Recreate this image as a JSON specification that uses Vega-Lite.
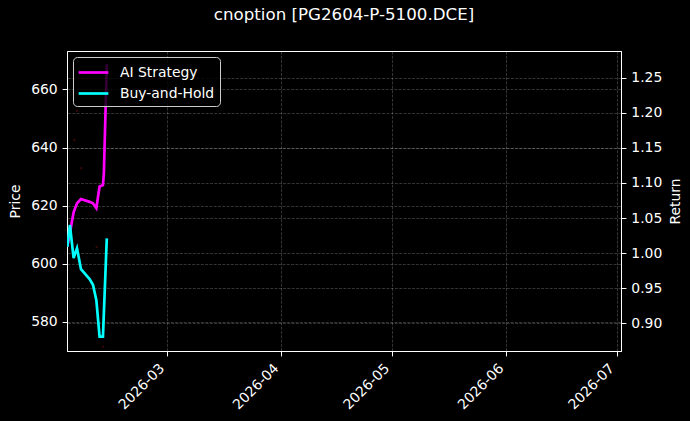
{
  "$schema": "https://vega.github.io/schema/vega-lite/v6.json",
  "width": 554,
  "height": 300,
  "autosize": {"type": "none"},
  "padding": {"left": 67, "top": 51, "right": 69, "bottom": 70},
  "background": "#000000",
  "title": {"text": "cnoption [PG2604-P-5100.DCE]", "color": "white", "font": "DejaVu Sans", "fontSize": 16.67, "fontWeight": "normal", "anchor": "middle", "offset": 27},
  "config": {
    "view": {"stroke": "white", "strokeWidth": 1},
    "font": "DejaVu Sans",
    "axis": {
      "labelColor": "white", "titleColor": "white", "tickColor": "white", "domainColor": "white",
      "labelFontSize": 13.9, "titleFontSize": 13.9, "titleFontWeight": "normal",
      "labelFont": "DejaVu Sans", "titleFont": "DejaVu Sans",
      "tickSize": 4.9, "tickWidth": 1, "labelPadding": 4.9, "domainWidth": 1,
      "gridColor": "#ffffff", "gridOpacity": 0.25, "gridDash": [3, 1.3], "gridWidth": 0.8
    }
  },
  "layer": [
    {
      "data": {"values": [
        {"date": "2026-02-03T22:00:00", "price": 642.6},
        {"date": "2026-02-04T15:00:00", "price": 652.6},
        {"date": "2026-02-05T19:00:00", "price": 632.9},
        {"date": "2026-02-09T23:00:00", "price": 605.8},
        {"date": "2026-02-11T18:00:00", "price": 571.5}
      ]},
      "mark": {"type": "point", "filled": true, "size": 5, "color": "#5a0a0a", "clip": true},
      "encoding": {
        "x": {
          "field": "date", "type": "temporal",
          "scale": {"domain": [{"year": 2026, "month": 2, "date": 1, "hours": 22}, {"year": 2026, "month": 7, "date": 2, "hours": 4}]},
          "axis": {
            "title": null, "format": "%Y-%m", "grid": true,
            "labelAngle": -45, "labelAlign": "right", "labelBaseline": "bottom", "labelPadding": 15,
            "values": [
              {"year": 2026, "month": 3, "date": 1},
              {"year": 2026, "month": 4, "date": 1},
              {"year": 2026, "month": 5, "date": 1},
              {"year": 2026, "month": 6, "date": 1},
              {"year": 2026, "month": 7, "date": 1}
            ]
          }
        },
        "y": {
          "field": "price", "type": "quantitative",
          "scale": {"domain": [570, 673.2], "nice": false, "zero": false},
          "axis": {"orient": "left", "title": "Price", "values": [580, 600, 620, 640, 660], "grid": true, "titlePadding": 8}
        }
      }
    },
    {
      "data": {"values": [
        {"date": "2026-02-02T00:00:00", "series": "AI Strategy", "value": 1.009},
        {"date": "2026-02-02T17:00:00", "series": "AI Strategy", "value": 1.029},
        {"date": "2026-02-03T17:00:00", "series": "AI Strategy", "value": 1.058},
        {"date": "2026-02-04T15:00:00", "series": "AI Strategy", "value": 1.071},
        {"date": "2026-02-05T17:00:00", "series": "AI Strategy", "value": 1.077},
        {"date": "2026-02-08T01:00:00", "series": "AI Strategy", "value": 1.073},
        {"date": "2026-02-08T23:00:00", "series": "AI Strategy", "value": 1.071},
        {"date": "2026-02-09T21:00:00", "series": "AI Strategy", "value": 1.064},
        {"date": "2026-02-10T18:00:00", "series": "AI Strategy", "value": 1.095},
        {"date": "2026-02-11T16:00:00", "series": "AI Strategy", "value": 1.097},
        {"date": "2026-02-11T22:00:00", "series": "AI Strategy", "value": 1.114},
        {"date": "2026-02-12T17:00:00", "series": "AI Strategy", "value": 1.269},
        {"date": "2026-02-02T00:00:00", "series": "Buy-and-Hold", "value": 1.009},
        {"date": "2026-02-02T17:00:00", "series": "Buy-and-Hold", "value": 1.040},
        {"date": "2026-02-03T17:00:00", "series": "Buy-and-Hold", "value": 0.993},
        {"date": "2026-02-04T15:00:00", "series": "Buy-and-Hold", "value": 1.007},
        {"date": "2026-02-05T17:00:00", "series": "Buy-and-Hold", "value": 0.977},
        {"date": "2026-02-08T01:00:00", "series": "Buy-and-Hold", "value": 0.963},
        {"date": "2026-02-08T23:00:00", "series": "Buy-and-Hold", "value": 0.955},
        {"date": "2026-02-09T21:00:00", "series": "Buy-and-Hold", "value": 0.933},
        {"date": "2026-02-10T18:00:00", "series": "Buy-and-Hold", "value": 0.881},
        {"date": "2026-02-11T16:00:00", "series": "Buy-and-Hold", "value": 0.881},
        {"date": "2026-02-12T17:00:00", "series": "Buy-and-Hold", "value": 1.021}
      ]},
      "mark": {"type": "line", "strokeWidth": 2.7, "clip": true},
      "encoding": {
        "x": {"field": "date", "type": "temporal"},
        "y": {
          "field": "value", "type": "quantitative",
          "scale": {"domain": [0.8605, 1.288], "nice": false, "zero": false},
          "axis": {"orient": "right", "title": "Return", "titleAngle": 270, "titleBaseline": "top", "format": ".2f", "grid": true, "titlePadding": 7,
                   "values": [0.9, 0.95, 1.0, 1.05, 1.1, 1.15, 1.2, 1.25]}
        },
        "color": {
          "field": "series", "type": "nominal",
          "scale": {"domain": ["AI Strategy", "Buy-and-Hold"], "range": ["#ff00ff", "#00ffff"]},
          "legend": {
            "title": null, "orient": "top-left", "offset": 6,
            "fillColor": "rgba(0,0,0,0.8)", "strokeColor": "#cccccc", "cornerRadius": 4, "padding": 5,
            "labelColor": "white", "labelFontSize": 13.9, "labelFont": "DejaVu Sans",
            "symbolType": "M-1.65,0H1.65", "symbolSize": 324, "symbolStrokeWidth": 2.7,
            "symbolOffset": 5, "labelOffset": 16, "rowPadding": 3
          }
        }
      }
    }
  ],
  "resolve": {"scale": {"y": "independent"}, "axis": {"y": "independent"}}
}
